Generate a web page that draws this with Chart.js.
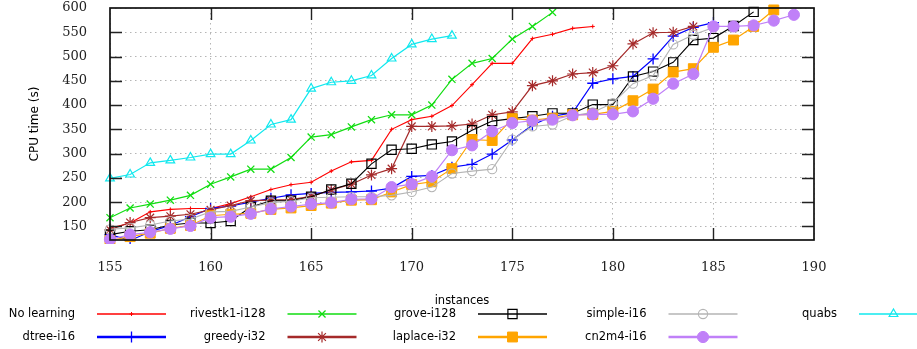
<!DOCTYPE html>
<html><head><meta charset="utf-8">
<script src="https://cdn.jsdelivr.net/npm/chart.js@4/dist/chart.umd.min.js"></script>
<style>html,body{margin:0;padding:0;background:#fff;}canvas{display:block;}</style>
</head><body>
<canvas id="c" width="917" height="349"></canvas>
<script>
// ---- data ----
const instances = [155,156,157,158,159,160,161,162,163,164,165,166,167,168,169,170,171,172,173,174,175,176,177,178,179,180,181,182,183,184,185,186,187,188,189];
const xTicks = [155,160,165,170,175,180,185,190];
const yTicks = [150,200,250,300,350,400,450,500,550,600];

const noLearning = [146,157,180,185,187,187,197,211,226,236,241,264,283,286,350,370,377,399,442,486,486,537,546,558,562];
const dtree      = [133,121,139,152,170,187,192,200,208,215,218,220,221,223,229,253,255,272,278,299,328,359,377,384,445,454,459,495,542,560,570];
const rivestk1   = [168,188,196,204,214,237,252,268,268,292,334,339,355,370,380,380,400,453,486,496,536,562,591];
const greedy     = [143,158,168,171,175,184,193,203,204,205,212,225,237,256,269,356,356,357,361,380,386,440,450,464,467,481,526,549,550,562];
const grove      = [133,140,143,153,157,157,161,190,203,203,211,226,238,279,308,310,319,325,348,367,372,377,383,383,401,401,459,469,488,534,538,563,592];
const laplace    = [121,129,136,146,152,172,175,177,185,188,193,198,204,205,221,236,242,269,329,327,372,369,373,380,381,387,409,433,468,475,519,534,562,596];
const simple     = [144,147,153,161,165,180,181,190,199,202,209,210,211,211,214,221,231,259,264,268,329,356,360,378,385,404,444,461,525,545,560];
const cn2m4      = [123,133,138,145,151,168,170,176,186,191,196,199,206,207,231,237,253,307,317,346,363,368,370,379,381,381,387,413,444,464,562,562,564,574,586];
const quabs      = [249,257,281,286,292,299,299,327,360,370,434,447,450,461,496,525,536,543];

const seriesNames = ['No learning','dtree-i16','rivestk1-i128','greedy-i32','grove-i128','laplace-i32','simple-i16','cn2m4-i16','quabs'];
const seriesValues = [noLearning,dtree,rivestk1,greedy,grove,laplace,simple,cn2m4,quabs];

// ---- styles ----
const styles = [
  {color:'#ff0000', fill:'#ff0000', style:'cross', r:2, bw:1, lw:1.1, legLw:1.4},
  {color:'#0000ff', fill:'#0000ff', style:'cross', r:5.5, bw:1.3, lw:1.2, legLw:2.6},
  {color:'#11dd11', fill:'rgba(0,0,0,0)', style:'crossRot', r:5, bw:1.3, lw:1.2, legLw:1.4},
  {color:'#a52a2a', fill:'rgba(0,0,0,0)', style:'star', r:5.5, bw:1.2, lw:1.2, legLw:2.6},
  {color:'#000000', fill:'rgba(0,0,0,0)', style:'rect', r:6.5, bw:1.2, lw:1.1, legLw:1.4},
  {color:'#ffa500', fill:'#ffa500', style:'rect', r:7, bw:1, lw:1.2, legLw:2.6},
  {color:'#b4b4b4', fill:'rgba(0,0,0,0)', style:'circle', r:4.6, bw:1.1, lw:1.1, legLw:1.4},
  {color:'#c080f8', fill:'#c080f8', style:'circle', r:5.6, bw:1, lw:1.2, legLw:2.6},
  {color:'#11e8ee', fill:'rgba(0,0,0,0)', style:'triangle', r:5, bw:1.2, lw:1.2, legLw:1.4}
];

const datasets = seriesNames.map((name,i)=>({
  label: name,
  data: seriesValues[i].map((v,k)=>({x: instances[k], y: v})),
  borderColor: styles[i].color,
  backgroundColor: styles[i].fill,
  pointBackgroundColor: styles[i].fill,
  pointBorderColor: styles[i].color,
  pointStyle: styles[i].style,
  pointRadius: styles[i].r,
  pointBorderWidth: styles[i].bw,
  borderWidth: styles[i].lw,
  tension: 0,
  fill: false,
  order: -i,
  clip: {left: 8, top: 10, right: 8, bottom: 4}
}));

function drawFrame(chart) {
  const ctx = chart.ctx, a = chart.chartArea, x = chart.scales.x, y = chart.scales.y;
  ctx.save();
  ctx.strokeStyle = '#222';
  ctx.lineWidth = 1.4;
  ctx.beginPath();
  for (let i = 1; i < xTicks.length - 1; i++) {
    const px = Math.round(x.getPixelForValue(xTicks[i])) + 0.5;
    ctx.moveTo(px, a.bottom); ctx.lineTo(px, a.bottom - 12);
    ctx.moveTo(px, a.top); ctx.lineTo(px, a.top + 12);
  }
  for (let i = 0; i < yTicks.length - 1; i++) {
    const py = Math.round(y.getPixelForValue(yTicks[i])) + 0.5;
    ctx.moveTo(a.left, py); ctx.lineTo(a.left + 12, py);
    ctx.moveTo(a.right, py); ctx.lineTo(a.right - 12, py);
  }
  ctx.stroke();
  ctx.lineWidth = 1.7;
  ctx.strokeStyle = '#111';
  ctx.strokeRect(a.left, a.top, a.right - a.left, a.bottom - a.top);
  ctx.restore();
}

function drawKey(chart) {
  const ctx = chart.ctx;
  ctx.save();
  ctx.font = '11.5px "DejaVu Sans"';
  ctx.textAlign = 'right';
  ctx.textBaseline = 'middle';
  seriesNames.forEach((name, i) => {
    const col = Math.floor(i / 2), row = i % 2;
    const base = 190.5 * col;
    const yy = row === 0 ? 314 : 337;
    const s = styles[i];
    ctx.fillStyle = '#000';
    ctx.fillText(name, base + 75, yy);
    ctx.strokeStyle = s.color;
    ctx.lineWidth = s.legLw;
    ctx.beginPath();
    ctx.moveTo(base + 97, yy); ctx.lineTo(base + 166, yy);
    ctx.stroke();
    if (Chart.helpers && Chart.helpers.drawPoint) {
      ctx.fillStyle = s.fill;
      ctx.strokeStyle = s.color;
      ctx.lineWidth = s.bw;
      Chart.helpers.drawPoint(ctx, {pointStyle: s.style, radius: s.r, rotation: 0, borderWidth: s.bw}, base + 131.5, yy);
    }
  });
  ctx.restore();
}

const decor = {
  id: 'decor',
  afterDraw(chart) {
    try { drawFrame(chart); } catch (e) { console.error(e); }
    try { drawKey(chart); } catch (e) { console.error(e); }
  }
};

new Chart(document.getElementById('c'), {
  type: 'line',
  data: { datasets },
  options: {
    responsive: false,
    animation: false,
    devicePixelRatio: 1,
    layout: { padding: { left: 0, right: 103, top: 7, bottom: 39 } },
    plugins: { legend: { display: false }, tooltip: { enabled: false } },
    scales: {
      x: {
        type: 'linear', min: 155, max: 190,
        afterBuildTicks: s => { s.ticks = xTicks.map(v => ({value: v})); },
        afterFit: s => { s.height = 70; },
        grid: { color: '#b5b5b5', lineWidth: 1, drawTicks: true, tickLength: 21, tickColor: 'rgba(0,0,0,0)' },
        border: { display: false, dash: [1.5, 3.5] },
        ticks: { padding: 0, color: '#222', font: { family: '"DejaVu Serif"', size: 13, lineHeight: 1 }, maxRotation: 0 },
        title: { display: true, text: 'instances', color: '#000', font: { family: '"DejaVu Sans"', size: 11.5 }, padding: { top: 0, bottom: 2 } }
      },
      y: {
        type: 'linear', min: 122, max: 600,
        afterBuildTicks: s => { s.ticks = yTicks.map(v => ({value: v})); },
        afterFit: s => { s.width = 110; },
        grid: { color: '#b5b5b5', lineWidth: 1, drawTicks: true, tickLength: 23, tickColor: 'rgba(0,0,0,0)' },
        border: { display: false, dash: [1.5, 3.5] },
        ticks: { padding: 0, color: '#222', font: { family: '"DejaVu Serif"', size: 13, lineHeight: 0.9 } },
        title: { display: true, text: 'CPU time (s)', color: '#000', font: { family: '"DejaVu Sans"', size: 12 }, padding: { top: 28, bottom: 0 } }
      }
    }
  },
  plugins: [decor]
});
</script>
</body></html>
